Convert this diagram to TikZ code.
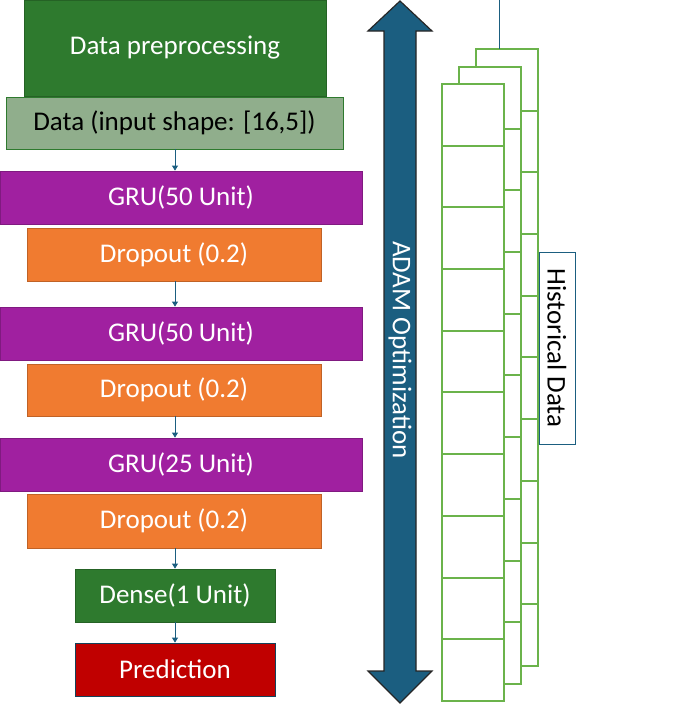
\documentclass[tikz,border=0pt]{standalone}
\usepackage{fontspec}
\setmainfont{Carlito}
\usetikzlibrary{arrows.meta}
\definecolor{dgreen}{HTML}{2E7A2E}
\definecolor{lgreen}{HTML}{90AE8C}
\definecolor{mag}{HTML}{A020A0}
\definecolor{org}{HTML}{F07B30}
\definecolor{pred}{HTML}{C00000}
\definecolor{adam}{HTML}{1B5E80}
\definecolor{stk}{HTML}{6BB34B}
\tikzset{
 blk/.style={draw=#1!80!black,fill=#1,text=white,font=\fontsize{27}{30}\selectfont,line width=0.8pt,inner sep=0pt},
 conn/.style={draw=adam,line width=0.8pt,-{Triangle[length=5pt,width=6pt]}},
 cell/.style={draw=stk,line width=2pt}
}
\begin{document}
\begin{tikzpicture}[x=1pt,y=-1pt]
\useasboundingbox (0,0) rectangle (689,726);
\node[blk=dgreen,minimum width=302pt,minimum height=96pt] (pre) at (175,48) {Data preprocessing};
\node[blk=lgreen,draw=dgreen,text=black,minimum width=337pt,minimum height=52pt] (inp) at (174.5,123) {Data (input shape: [16,5])};
\node[blk=mag,minimum width=362pt,minimum height=53pt] (g1) at (181,197.5) {GRU(50 Unit)};
\node[blk=org,minimum width=294pt,minimum height=53pt] (d1) at (174,254.5) {Dropout (0.2)};
\node[blk=mag,minimum width=362pt,minimum height=53pt] (g2) at (181,333.5) {GRU(50 Unit)};
\node[blk=org,minimum width=294pt,minimum height=52pt] (d2) at (174,390) {Dropout (0.2)};
\node[blk=mag,minimum width=362pt,minimum height=53pt] (g3) at (181,464.5) {GRU(25 Unit)};
\node[blk=org,minimum width=294pt,minimum height=54pt] (d3) at (174,521) {Dropout (0.2)};
\node[blk=dgreen,minimum width=200pt,minimum height=53pt] (dense) at (175,595.5) {Dense(1 Unit)};
\node[blk=pred,draw=adam!70!black,minimum width=200pt,minimum height=53pt] (out) at (175,669.5) {Prediction};
\draw[conn] (inp.south -| 175,0) -- (g1.north -| 175,0);
\draw[conn] (d1.south -| 175,0) -- (g2.north -| 175,0);
\draw[conn] (d2.south -| 175,0) -- (g3.north -| 175,0);
\draw[conn] (d3.south -| 175,0) -- (dense.north);
\draw[conn] (dense.south) -- (out.north);
% ADAM arrow
\draw[draw=black!85,fill=adam,line width=1.2pt,line join=miter]
 (400,1) -- (432,31) -- (416,31) -- (416,671) -- (432,671) -- (400,703) -- (368,671) -- (384,671) -- (384,31) -- (368,31) -- cycle;
\node[rotate=-90,text=white,font=\fontsize{27}{30}\selectfont] (adamtxt) at (400,350) {ADAM Optimization};
% stacks
\foreach \dx/\dy in {34/-35,17/-17,0/0}{
  \fill[white] ({442+\dx},{84+\dy}) rectangle ({504+\dx},{84+\dy+617});
  \foreach \i in {1,...,9}{
    \draw[cell] ({442+\dx},{84+\dy+round(\i*61.7)}) -- ({504+\dx},{84+\dy+round(\i*61.7)});
  }
  \draw[cell] ({442+\dx},{84+\dy}) rectangle ({504+\dx},{84+\dy+617});
}
\coordinate (topc) at (499,0);
\coordinate (topb) at (499,49);
\draw[adam,line width=1pt] (topc) -- (topb);
\node[draw=adam,fill=white,line width=1pt,minimum width=36pt,minimum height=192pt,inner sep=0pt] (hist) at (557,348) {};
\node[rotate=-90,font=\fontsize{27}{30}\selectfont] (histtxt) at (557,348) {Historical Data};
\end{tikzpicture}
\end{document}
